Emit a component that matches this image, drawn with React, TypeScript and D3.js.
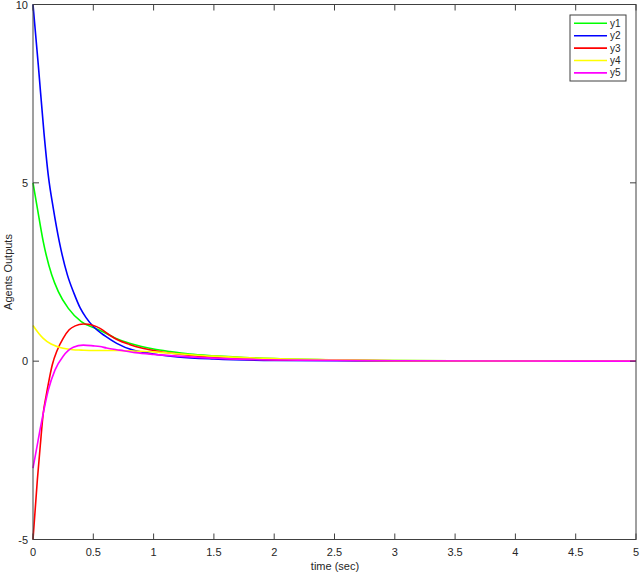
import React from "react";
import * as d3 from "d3";

const W = 640;
const H = 574;

const xTicks = [0, 0.5, 1, 1.5, 2, 2.5, 3, 3.5, 4, 4.5, 5];
const yTicks = [-5, 0, 5, 10];
const seriesNames = ["y1", "y2", "y3", "y4", "y5"];
const seriesColors = ["#00ff00", "#0000ff", "#ff0000", "#ffff00", "#ff00ff"];

const y1T = [0, 0.036, 0.085, 0.155, 0.21, 0.293, 0.4, 0.5, 0.556, 0.64, 0.7, 0.8, 0.9, 1.0, 1.136, 1.3, 1.5, 2, 2.5, 3, 4, 5];
const y1V = [5, 4.29, 3.35, 2.42, 1.95, 1.48, 1.11, 0.94, 0.86, 0.72, 0.62, 0.5, 0.41, 0.34, 0.27, 0.2, 0.15, 0.07, 0.03, 0.015, 0.003, 0];

const y2T = [0, 0.044, 0.091, 0.127, 0.168, 0.218, 0.285, 0.34, 0.39, 0.44, 0.5, 0.6, 0.694, 0.83, 0.9, 1.0, 1.2, 1.5, 2, 3, 5];
const y2V = [10, 8.3, 6.4, 5.2, 4.29, 3.35, 2.42, 1.9, 1.5, 1.22, 0.97, 0.7, 0.5, 0.31, 0.26, 0.2, 0.12, 0.06, 0.02, 0.005, 0];

const y3T = [0, 0.036, 0.06, 0.085, 0.11, 0.133, 0.16, 0.2, 0.25, 0.3, 0.35, 0.417, 0.5, 0.556, 0.64, 0.7, 0.8, 0.9, 1.0, 1.2, 1.5, 2, 3, 5];
const y3V = [-5, -3.33, -2.38, -1.46, -0.95, -0.53, -0.1, 0.3, 0.64, 0.88, 0.99, 1.04, 1.0, 0.92, 0.72, 0.6, 0.47, 0.37, 0.3, 0.2, 0.1, 0.04, 0.01, 0];

const y4T = [0, 0.05, 0.085, 0.15, 0.2, 0.25, 0.33, 0.4, 0.5, 0.6, 0.7, 0.8, 0.9, 1.0, 1.2, 1.5, 2, 2.5, 3, 4, 5];
const y4V = [1, 0.77, 0.64, 0.48, 0.41, 0.36, 0.32, 0.31, 0.3, 0.3, 0.3, 0.29, 0.28, 0.26, 0.21, 0.14, 0.07, 0.035, 0.015, 0.003, 0];

const y5T = [0, 0.03, 0.058, 0.085, 0.127, 0.182, 0.25, 0.334, 0.417, 0.5, 0.556, 0.61, 0.72, 0.85, 1.0, 1.2, 1.4, 1.8, 2.2, 3, 5];
const y5V = [-3, -2.45, -1.93, -1.46, -0.81, -0.25, 0.14, 0.39, 0.45, 0.43, 0.41, 0.37, 0.31, 0.24, 0.19, 0.14, 0.1, 0.05, 0.03, 0.01, 0];

const seriesT = [y1T, y2T, y3T, y4T, y5T];
const seriesV = [y1V, y2V, y3V, y4V, y5V];

const M = { left: 33, right: 636, top: 4.5, bottom: 539.5 };
const AX = "#404040";
const FONT = "'Liberation Sans', Arial, Helvetica, sans-serif";

export default function App() {
  const x = d3.scaleLinear().domain([0, 5]).range([M.left, M.right]);
  const y = d3.scaleLinear().domain([-5, 10]).range([M.bottom, M.top]);
  const line = d3
    .line<[number, number]>()
    .x((d) => x(d[0]))
    .y((d) => y(d[1]))
    .curve(d3.curveMonotoneX);

  const tickLen = 6;
  const legX = 570, legY = 15, legW = 56, legH = 66, rowH = 12.4;

  return (
    <svg
      width={W}
      height={H}
      style={{ position: "absolute", left: 0, top: 0, background: "#fff" }}
      fontFamily={FONT}
    >
      <rect x={0} y={0} width={W} height={H} fill="#fff" />
      {seriesNames.map((n, i) => {
        const pts: [number, number][] = seriesT[i].map((t, j) => [t, seriesV[i][j]]);
        return (
          <path key={n} d={line(pts) || ""} fill="none" stroke={seriesColors[i]} strokeWidth={1.6} />
        );
      })}
      <rect
        x={M.left}
        y={M.top}
        width={M.right - M.left}
        height={M.bottom - M.top}
        fill="none"
        stroke={AX}
        strokeWidth={1}
      />
      {xTicks.map((t) => (
        <g key={"x" + t}>
          <line x1={x(t)} x2={x(t)} y1={M.bottom} y2={M.bottom - tickLen} stroke={AX} />
          <line x1={x(t)} x2={x(t)} y1={M.top} y2={M.top + tickLen} stroke={AX} />
          <text x={x(t)} y={556} fontSize={11} fill="#262626" textAnchor="middle">
            {t}
          </text>
        </g>
      ))}
      {yTicks.map((v) => (
        <g key={"y" + v}>
          <line x1={M.left} x2={M.left + tickLen} y1={y(v)} y2={y(v)} stroke={AX} />
          <line x1={M.right} x2={M.right - tickLen} y1={y(v)} y2={y(v)} stroke={AX} />
          <text x={28} y={y(v) + 4} fontSize={11} fill="#262626" textAnchor="end">
            {v}
          </text>
        </g>
      ))}
      <text x={335} y={570} fontSize={11} fill="#262626" textAnchor="middle">
        time (sec)
      </text>
      <text
        transform={`translate(12, ${(M.top + M.bottom) / 2}) rotate(-90)`}
        fontSize={11}
        fill="#262626"
        textAnchor="middle"
      >
        Agents Outputs
      </text>
      <rect x={legX} y={legY} width={legW} height={legH} fill="#fff" stroke={AX} strokeWidth={1} />
      {seriesNames.map((n, i) => {
        const cy = legY + 8.3 + i * rowH;
        return (
          <g key={"leg" + n}>
            <line x1={574} x2={607} y1={cy} y2={cy} stroke={seriesColors[i]} strokeWidth={1.6} />
            <text x={610} y={cy + 3.5} fontSize={10} fill="#262626">
              {n}
            </text>
          </g>
        );
      })}
    </svg>
  );
}
